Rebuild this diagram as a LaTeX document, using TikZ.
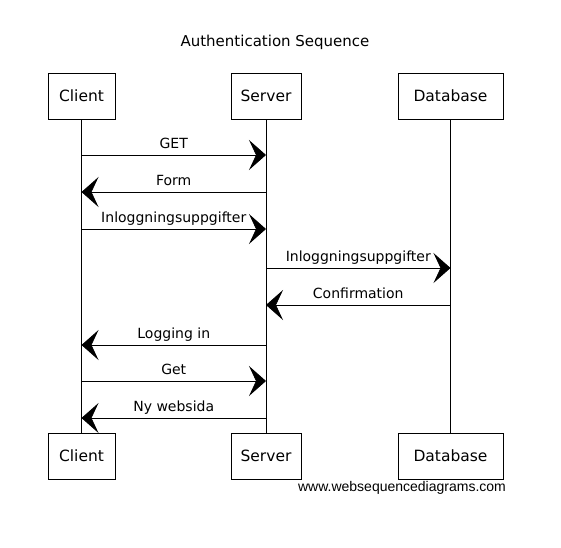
\documentclass[tikz,border=0pt]{standalone}
\usepackage{fontspec}
\setmainfont{DejaVu Sans}
\newfontfamily\wsdfont{Liberation Sans}
\usetikzlibrary{arrows.meta}

\begin{document}
\begin{tikzpicture}[x=1pt, y=-1pt, line width=0.8pt,
	arrows={-Stealth[length=17pt,width=30pt,inset=7pt]},
	actor/.style={draw, -, minimum height=46pt, inner sep=0pt, font=\fontsize{15.5}{18}\selectfont},
	msg/.style={midway, anchor=base, yshift=7pt, font=\fontsize{14}{16}\selectfont}]
	\useasboundingbox (0,0) rectangle (561,547);

	\node (title) at (275,42) {\fontsize{15}{18}\selectfont Authentication Sequence};

	\node [actor, minimum width=67pt] (C) at (81.5,96) {Client};
	\node [actor, minimum width=70pt] (S) at (266,96) {Server};
	\node [actor, minimum width=105pt] (D) at (450.5,96) {Database};
	\node [actor, minimum width=67pt] (Cb) at (81.5,456) {Client};
	\node [actor, minimum width=70pt] (Sb) at (266,456) {Server};
	\node [actor, minimum width=105pt] (Db) at (450.5,456) {Database};

	\draw [-] (C) -- (Cb);
	\draw [-] (S) -- (Sb);
	\draw [-] (D) -- (Db);

	% message points on the lifelines
	\foreach \n/\y in {1/155, 2/192, 3/229, 4/268, 5/305, 6/345, 7/381, 8/418} {
		\coordinate (c\n) at (C |- 0,\y);
		\coordinate (s\n) at (S |- 0,\y);
		\coordinate (d\n) at (D |- 0,\y);
	}

	\draw (c1) to node [msg] {GET} (s1);
	\draw (s2) to node [msg] {Form} (c2);
	\draw (c3) to node [msg] {Inloggningsuppgifter} (s3);
	\draw (s4) to node [msg] {Inloggningsuppgifter} (d4);
	\draw (d5) to node [msg] {Confirmation} (s5);
	\draw (s6) to node [msg] {Logging in} (c6);
	\draw (c7) to node [msg] {Get} (s7);
	\draw (s8) to node [msg] {Ny websida} (c8);

	\node [font=\wsdfont\fontsize{14}{16}\selectfont] (wsd) at (402,488) {www.websequencediagrams.com};
\end{tikzpicture}
\end{document}
